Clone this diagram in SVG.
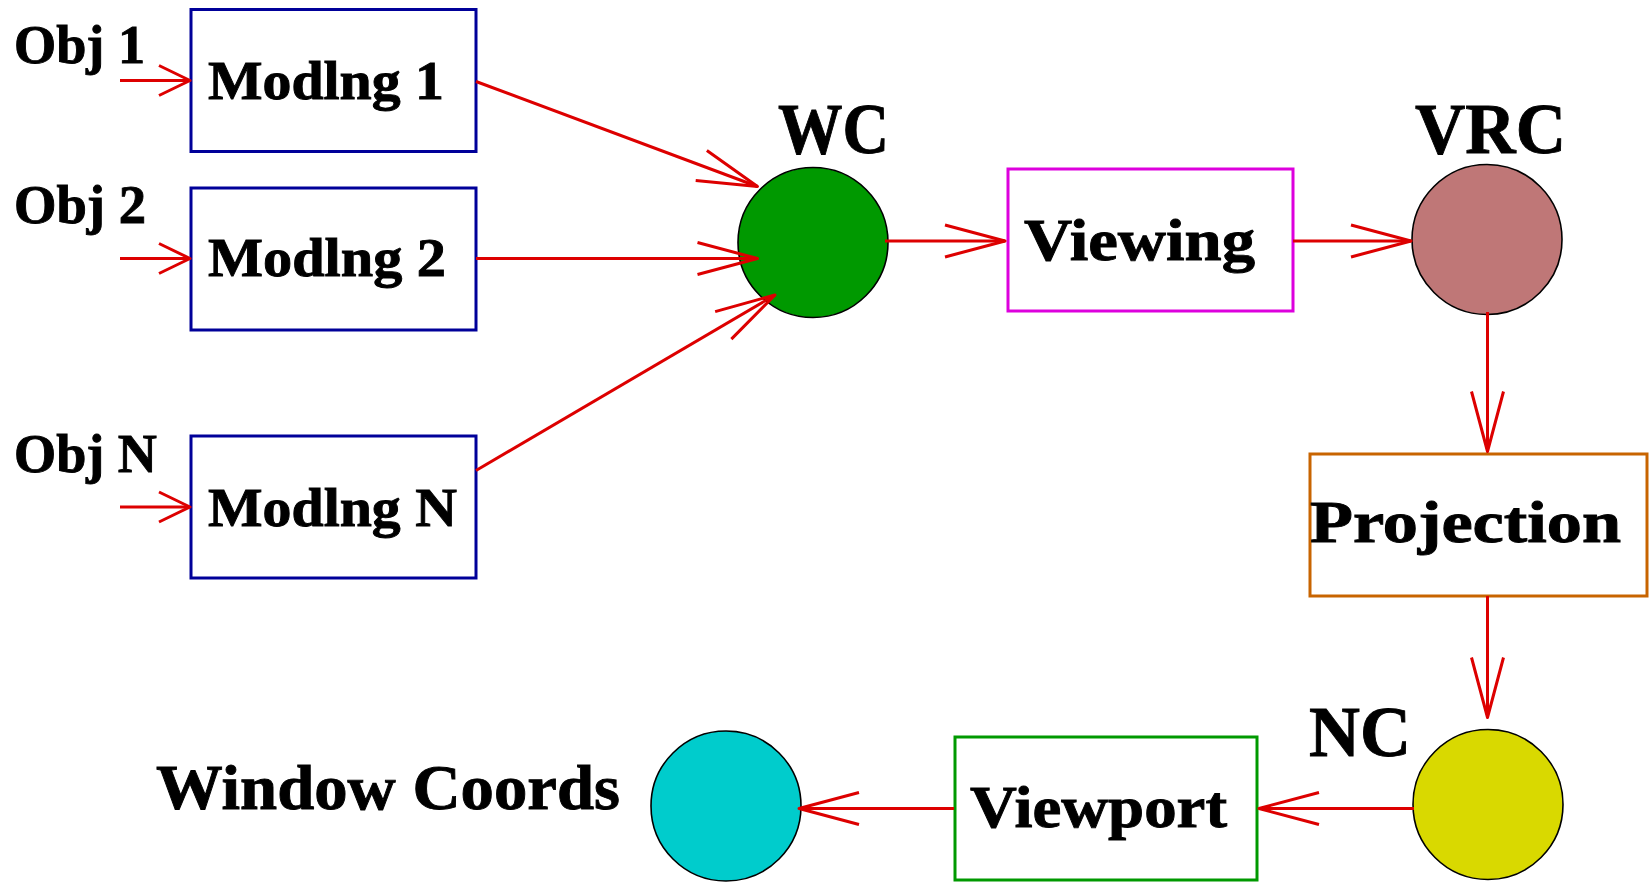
<svg xmlns="http://www.w3.org/2000/svg" width="1649" height="882" viewBox="0 0 1649 882">
  <style>
    text { font-family: "Liberation Serif", "Times New Roman", serif; font-weight: bold; fill: #000; stroke: #000; stroke-width: 0.9; }
    .s { font-size: 54px; }
    .m { font-size: 59px; }
    .l { font-size: 72px; }
    .box { fill: #fff; stroke-width: 3; }
    .blue { stroke: #000099; }
    .disc { stroke: #000; stroke-width: 1.6; }
    .wire { fill: none; stroke: #dd0000; stroke-width: 3; }
    .big { marker-end: url(#head); }
    .small { marker-end: url(#headSmall); }
  </style>
  <defs>
    <marker id="head" markerUnits="userSpaceOnUse" viewBox="-64 -20 66 40" refX="0" refY="0" markerWidth="66" markerHeight="40" orient="auto">
      <path d="M-60,-16 L0,0 L-60,16" fill="none" stroke="#dd0000" stroke-width="3" stroke-linejoin="round"/>
    </marker>
    <marker id="headSmall" markerUnits="userSpaceOnUse" viewBox="-34 -18 36 36" refX="0" refY="0" markerWidth="36" markerHeight="36" orient="auto">
      <path d="M-31,-15 L0,0 L-31,15" fill="none" stroke="#dd0000" stroke-width="3" stroke-linejoin="round"/>
    </marker>
  </defs>

  <!-- object labels -->
  <g id="obj1"><text class="s" x="14" y="63" textLength="131" lengthAdjust="spacingAndGlyphs">Obj 1</text></g>
  <g id="obj2"><text class="s" x="14" y="223" textLength="132" lengthAdjust="spacingAndGlyphs">Obj 2</text></g>
  <g id="objN"><text class="s" x="14" y="472" textLength="143" lengthAdjust="spacingAndGlyphs">Obj N</text></g>

  <!-- modelling transforms -->
  <g id="modlng1">
    <rect class="box blue" x="191" y="9.5" width="285" height="142"/>
    <text class="s" x="208" y="99" textLength="236" lengthAdjust="spacingAndGlyphs">Modlng 1</text>
  </g>
  <g id="modlng2">
    <rect class="box blue" x="191" y="188" width="285" height="142"/>
    <text class="s" x="208" y="276" textLength="238" lengthAdjust="spacingAndGlyphs">Modlng 2</text>
  </g>
  <g id="modlngN">
    <rect class="box blue" x="191" y="436" width="285" height="142"/>
    <text class="s" x="208" y="526" textLength="249" lengthAdjust="spacingAndGlyphs">Modlng N</text>
  </g>

  <!-- world coordinates -->
  <g id="wc">
    <circle class="disc" cx="813" cy="242.5" r="75" fill="#009900"/>
    <text class="l" x="778" y="153" textLength="111" lengthAdjust="spacingAndGlyphs">WC</text>
  </g>

  <!-- viewing transform -->
  <g id="viewing">
    <rect class="box" x="1008" y="169" width="285" height="142" stroke="#dd00dd"/>
    <text class="m" x="1024" y="260" textLength="231" lengthAdjust="spacingAndGlyphs">Viewing</text>
  </g>

  <!-- view reference coordinates -->
  <g id="vrc">
    <circle class="disc" cx="1487" cy="239.5" r="75" fill="#bf7777"/>
    <text class="l" x="1415" y="153" textLength="151" lengthAdjust="spacingAndGlyphs">VRC</text>
  </g>

  <!-- projection -->
  <g id="projection">
    <rect class="box" x="1310" y="454" width="337" height="142" stroke="#c86400"/>
    <text class="m" x="1310" y="542" textLength="311" lengthAdjust="spacingAndGlyphs">Projection</text>
  </g>

  <!-- normalized coordinates -->
  <g id="nc">
    <circle class="disc" cx="1488" cy="804.5" r="75" fill="#d9d900"/>
    <text class="l" x="1309" y="756" textLength="102" lengthAdjust="spacingAndGlyphs">NC</text>
  </g>

  <!-- viewport -->
  <g id="viewport">
    <rect class="box" x="955" y="737" width="302" height="143" stroke="#009900"/>
    <text class="m" x="970" y="827" textLength="257" lengthAdjust="spacingAndGlyphs">Viewport</text>
  </g>

  <!-- window coordinates -->
  <g id="window">
    <circle class="disc" cx="726" cy="806" r="75" fill="#00cccc"/>
    <text x="156" y="809" font-size="64" textLength="464" lengthAdjust="spacingAndGlyphs">Window Coords</text>
  </g>

  <!-- connectors -->
  <g id="connectors">
    <line class="wire small" x1="120" y1="80.5" x2="190" y2="80.5"/>
    <line class="wire small" x1="120" y1="258.5" x2="190" y2="258.5"/>
    <line class="wire small" x1="120" y1="507" x2="190" y2="507"/>
    <line class="wire big" x1="476" y1="81.5" x2="757.5" y2="186.5"/>
    <line class="wire big" x1="476" y1="258.5" x2="757.5" y2="258.5"/>
    <line class="wire big" x1="476" y1="470.5" x2="775" y2="295"/>
    <line class="wire big" x1="885" y1="241" x2="1005" y2="241"/>
    <line class="wire big" x1="1293" y1="241" x2="1411" y2="241"/>
    <line class="wire big" x1="1487.5" y1="312" x2="1487.5" y2="451.5"/>
    <line class="wire big" x1="1487.5" y1="596" x2="1487.5" y2="717.5"/>
    <line class="wire big" x1="1414" y1="808.5" x2="1259" y2="808.5"/>
    <line class="wire big" x1="954" y1="808.5" x2="799" y2="808.5"/>
  </g>
</svg>
